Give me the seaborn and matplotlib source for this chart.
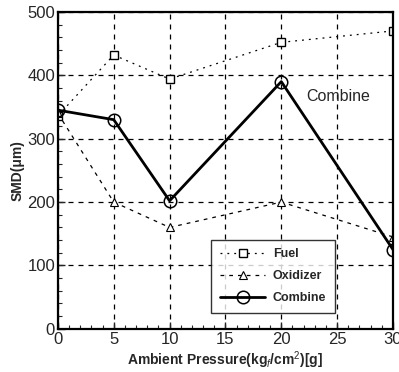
import matplotlib
matplotlib.use("Agg")
import matplotlib.pyplot as plt
from matplotlib.ticker import MultipleLocator
import seaborn as sns
import pandas as pd

pressure = [0, 5, 10, 20, 30]
fuel = [336, 432, 394, 452, 470]
oxidizer = [340, 200, 160, 200, 145]
combine = [345, 330, 202, 390, 125]

sns.set_style("ticks")
plt.rcParams["font.family"] = ["Liberation Sans", "DejaVu Sans"]
plt.rcParams["mathtext.fontset"] = "custom"
plt.rcParams["mathtext.rm"] = "Liberation Sans"
plt.rcParams["mathtext.it"] = "Liberation Sans:italic"
plt.rcParams["mathtext.bf"] = "Liberation Sans:bold"

df = pd.DataFrame({"p": pressure, "Fuel": fuel, "Oxidizer": oxidizer, "Combine": combine})

fig = plt.figure(figsize=(3.99, 3.72), dpi=100)
ax = fig.add_axes([0.145, 0.116, 0.84, 0.852])

sns.lineplot(data=df, x="p", y="Fuel", ax=ax, color="black", lw=0.9,
             linestyle=(0, (1.5, 4)), marker="s", markersize=5.5,
             markerfacecolor="white", markeredgecolor="black", markeredgewidth=1.0,
             label="Fuel")
sns.lineplot(data=df, x="p", y="Oxidizer", ax=ax, color="black", lw=0.9,
             linestyle=(0, (3, 4)), marker="^", markersize=6,
             markerfacecolor="white", markeredgecolor="black", markeredgewidth=0.8,
             label="Oxidizer")
sns.lineplot(data=df, x="p", y="Combine", ax=ax, color="black", lw=2.0,
             linestyle="-", marker="o", markersize=9,
             markerfacecolor="none", markeredgecolor="black", markeredgewidth=1.1,
             label="Combine")

ax.set_xlim(0, 30)
ax.set_ylim(0, 500)
ax.xaxis.set_major_locator(MultipleLocator(5))
ax.xaxis.set_minor_locator(MultipleLocator(1))
ax.yaxis.set_major_locator(MultipleLocator(100))
ax.yaxis.set_minor_locator(MultipleLocator(20))
ax.tick_params(which="both", direction="in", top=False, right=False)
ax.tick_params(which="major", length=5, width=1.0, labelsize=12, pad=2)
ax.tick_params(which="minor", length=3, width=0.8)
ax.grid(True, which="major", color="black", linestyle=(0, (4, 4)), lw=0.9)
for s in ax.spines.values():
    s.set_linewidth(1.6)
    s.set_color("black")

ax.set_xlabel(r"Ambient Pressure(kg$_f$/cm$^2$)[g]", fontsize=10, fontweight="bold", labelpad=2)
ax.set_ylabel("SMD(\u03bcm)", fontsize=10, fontweight="bold", labelpad=2)

ax.text(25.1, 367, "Combine", fontsize=11.5, ha="center", va="center")

leg = ax.legend(loc="lower right", bbox_to_anchor=(0.845, 0.03),
                frameon=True, fancybox=False, edgecolor="black", handlelength=3.6,
                handletextpad=0.6, borderpad=0.7, labelspacing=0.8,
                prop={"weight": "bold", "size": 9})
leg.get_frame().set_linewidth(1.0)

fig.savefig("out.png", dpi=100)
